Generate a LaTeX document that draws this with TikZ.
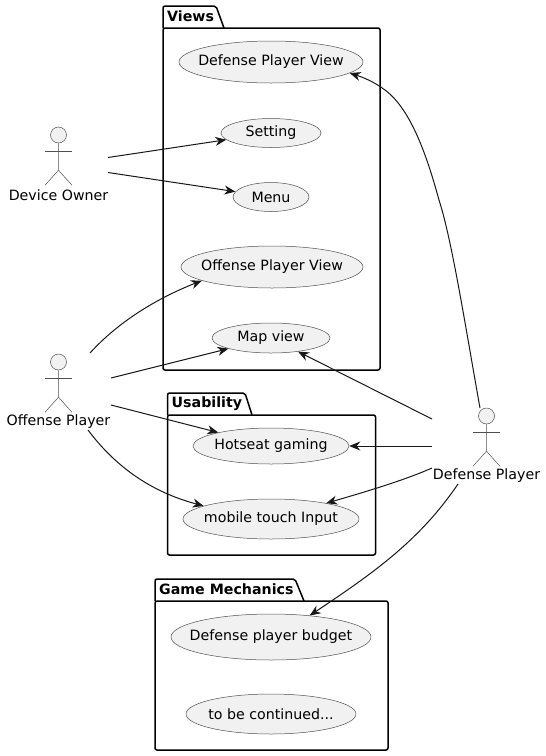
\documentclass[tikz,border=0pt]{standalone}
\usepackage{fontspec}
\setmainfont{DejaVu Sans}
\usetikzlibrary{positioning, shapes.geometric, arrows.meta}
\definecolor{ucfill}{HTML}{F1F1F1}
\definecolor{ucline}{HTML}{181818}
\definecolor{ucthin}{HTML}{505050}
\tikzset{
  usecase/.style={draw=ucthin, line width=0.5pt, fill=ucfill, ellipse, inner sep=0pt, align=center},
  pkg/.style={draw=black, line width=1.5pt, rounded corners=2pt, inner sep=0pt},
  pkgtitle/.style={font=\fontsize{14.2}{17}\selectfont\bfseries, inner sep=0pt, anchor=west},
  link/.style={draw=ucline, line width=1pt, -{Stealth[length=11pt, width=9pt, inset=3.5pt]}},
  actorline/.style={draw=ucthin, line width=0.5pt},
  actorhead/.style={draw=ucthin, line width=0.5pt, fill=ucfill, circle, inner sep=0pt, minimum size=16pt}
}
% text that does not widen the ellipse
\newcommand{\uc}[1]{\makebox[0pt]{#1}}
% stick figure: name, x, y of head, text
\newcommand{\stickfigure}[4]{
  \node[actorhead] (#1) at (#2, #3) {};
  \draw[actorline] (#1.south) -- ++(0, 27) -- ++(-13.5, 15);
  \draw[actorline] (#1.south) ++(0, 27) -- ++(13.5, 15);
  \draw[actorline] (#2-13.5, #3+16) -- (#2+13.5, #3+16);
  \node[inner sep=0pt] (#1Label) at (#2, #3+60) {#4};
}
\begin{document}
\begin{tikzpicture}[x=1pt, y=-1pt, font=\fontsize{14.2}{17}\selectfont]
      \useasboundingbox (0,0) rectangle (546,756);

      % packages
      \draw[pkg, fill=white] (163,28) -- (163,6) -- (216,6) -- (224,28);
      \node[pkg, minimum width=217pt, minimum height=342pt] (Views) at (271.5,199) {};
      \node[pkgtitle] (ViewsTitle) at (167,16.5) {Views};

      \draw[pkg, fill=white] (167.5,415) -- (167.5,393) -- (245,393) -- (252,415);
      \node[pkg, minimum width=208pt, minimum height=140pt] (Usability) at (271.5,485) {};
      \node[pkgtitle] (UsabilityTitle) at (171.5,403.5) {Usability};

      \draw[pkg, fill=white] (155,601) -- (155,579) -- (295,579) -- (304,601);
      \node[pkg, minimum width=233pt, minimum height=149pt] (Mechanics) at (271.5,675.5) {};
      \node[pkgtitle] (MechanicsTitle) at (159,589.5) {Game Mechanics};

      % use cases
      \node[usecase, minimum width=184pt, minimum height=42pt] (DPV)     at (271,62)  {\uc{Defense Player View}};
      \node[usecase, minimum width=100pt, minimum height=29pt] (Setting) at (271,133) {\uc{Setting}};
      \node[usecase, minimum width=76pt,  minimum height=29pt] (Menu)    at (271,197) {\uc{Menu}};
      \node[usecase, minimum width=182pt, minimum height=42pt] (OPV)     at (272,267) {\uc{Offense Player View}};
      \node[usecase, minimum width=118pt, minimum height=30pt] (Map)     at (271,338) {\uc{Map view}};
      \node[usecase, minimum width=156pt, minimum height=36pt] (Hotseat) at (271,446) {\uc{Hotseat gaming}};
      \node[usecase, minimum width=176pt, minimum height=40pt] (Touch)   at (271,519) {\uc{mobile touch Input}};
      \node[usecase, minimum width=200pt, minimum height=46pt] (Budget)  at (271,637) {\uc{Defense player budget}};
      \node[usecase, minimum width=170pt, minimum height=40pt] (Next)    at (271,714) {\uc{to be continued...}};

      % actors
      \stickfigure{DO}{58.5}{135}{Device Owner}
      \stickfigure{OP}{58.5}{362}{Offense Player}
      \stickfigure{DP}{486.5}{416}{Defense Player}

      % free ends
      \coordinate (DOa) at (108,157.5);
      \coordinate (DOb) at (108,172.5);
      \coordinate (OPa) at (90,353);
      \coordinate (OPb) at (111,378);
      \coordinate (OPc) at (111,405);
      \coordinate (OPd) at (88,430);
      \coordinate (DPa) at (480,408);
      \coordinate (DPb) at (432,419);
      \coordinate (DPc) at (432,446);
      \coordinate (DPd) at (432,468);
      \coordinate (DPe) at (458,484);

      \draw[link] (DOa) -- (Setting);
      \draw[link] (DOb) -- (Menu);

      \draw[link] (OPa) .. controls (120,320) and (160,297) .. (OPV.191);
      \draw[link] (OPb) -- (Map);
      \draw[link] (OPc) -- (Hotseat);
      \draw[link] (OPd) .. controls (118,470) and (155,493) .. (Touch.169);

      \draw[link] (DPa) .. controls (466,330) and (452,240) .. (439,200)
                        .. controls (428,160) and (412,110) .. (385,90)
                        .. controls (373,81) and (362,77) .. (DPV.352);
      \draw[link] (DPb) -- (Map);
      \draw[link] (DPc) -- (Hotseat);
      \draw[link] (DPd) .. controls (405,480) and (365,492) .. (Touch.16);
      \draw[link] (DPe) .. controls (420,540) and (375,572) .. (Budget.29);
    \end{tikzpicture}
\end{document}
